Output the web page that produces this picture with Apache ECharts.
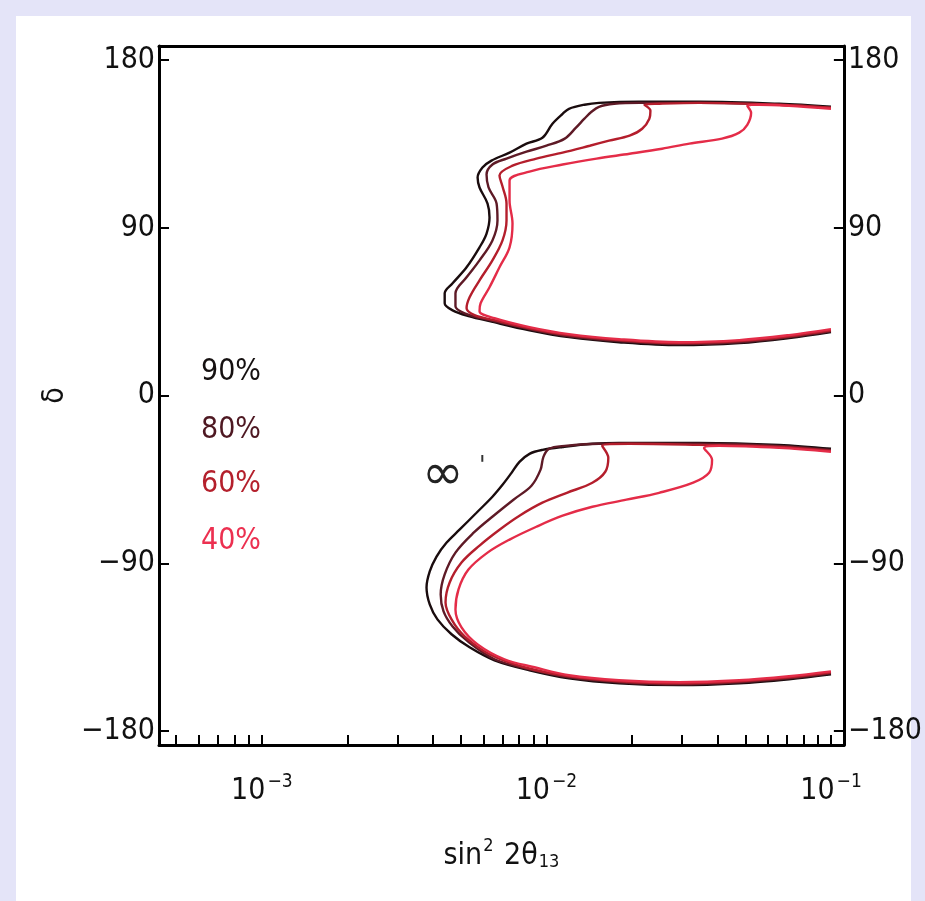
<!DOCTYPE html>
<html>
<head>
<meta charset="utf-8">
<script src="https://cdn.jsdelivr.net/npm/echarts@6/dist/echarts.min.js"></script>
<style>
html,body{margin:0;padding:0;background:#e4e4f8;}
#c{width:925px;height:901px;}
</style>
</head>
<body>
<div id="c"></div>
<script>
// ---------- data (sin^2 2θ13, δ in degrees) ----------
const levels = ['90%', '80%', '60%', '40%'];

const up90 = [[0.1,154.9],[0.0657,156.5],[0.0344,157.6],[0.0212,157.6],[0.0153,157.0],[0.0136,156.0],[0.0120,153.8],[0.0114,151.1],[0.0105,145.8],[0.00968,138.3],[0.00851,135.1],[0.00742,130.3],[0.00641,126.0],[0.00596,122.3],[0.00573,116.9],[0.00582,111.6],[0.00621,103.0],[0.00631,95.5],[0.00616,86.9],[0.00582,79.5],[0.00524,68.8],[0.00468,60.2],[0.00439,54.8],[0.00439,49.5],[0.00468,45.7],[0.00537,42.5],[0.00631,39.9],[0.00872,35.0],[0.0120,31.3],[0.0180,28.6],[0.0293,27.0],[0.0476,28.1],[0.0712,30.8],[0.1,34.0]];
const up80 = [[0.1,154.4],[0.0657,156.0],[0.0344,157.0],[0.0212,157.0],[0.0173,156.5],[0.0153,154.9],[0.0144,152.2],[0.0136,148.5],[0.0127,143.7],[0.0116,137.8],[0.0100,134.0],[0.00851,130.8],[0.00724,127.1],[0.00646,123.9],[0.00616,118.5],[0.00626,111.6],[0.00668,103.0],[0.00673,93.9],[0.00646,83.2],[0.00582,72.5],[0.00524,63.4],[0.00479,54.8],[0.00479,47.9],[0.00516,44.1],[0.00631,40.4],[0.00872,35.6],[0.0120,31.8],[0.0180,29.2],[0.0293,27.6],[0.0476,28.6],[0.0712,31.3],[0.1,34.5]];
const up60 = [[0.1,154.4],[0.0657,156.0],[0.0344,157.0],[0.0249,156.5],[0.0221,156.0],[0.0232,152.8],[0.0230,148.5],[0.0217,143.1],[0.0196,139.4],[0.0166,136.7],[0.0142,134.0],[0.0114,130.3],[0.00922,127.1],[0.00760,123.3],[0.00684,118.0],[0.00701,112.1],[0.00724,103.0],[0.00724,93.9],[0.00701,83.2],[0.00646,72.5],[0.00582,61.8],[0.00537,52.7],[0.00524,46.8],[0.00559,43.1],[0.00657,40.4],[0.00872,36.1],[0.0120,32.4],[0.0180,29.7],[0.0293,28.1],[0.0476,29.2],[0.0712,31.8],[0.1,35.0]];
const up40 = [[0.1,153.8],[0.0712,155.4],[0.0559,156.0],[0.0508,155.4],[0.0524,151.7],[0.0508,145.2],[0.0476,141.0],[0.0414,137.8],[0.0318,135.1],[0.0255,132.4],[0.0196,129.7],[0.0150,127.1],[0.0114,123.9],[0.00872,120.1],[0.00742,115.3],[0.00742,104.6],[0.00760,92.3],[0.00742,79.5],[0.00684,68.8],[0.00631,58.1],[0.00587,49.5],[0.00582,45.2],[0.00657,41.5],[0.00872,36.7],[0.0120,32.9],[0.0180,30.2],[0.0293,28.6],[0.0476,29.7],[0.0712,32.4],[0.1,35.6]];

const lo90 = [[0.1,-28.6],[0.0657,-26.5],[0.0344,-25.4],[0.0180,-25.4],[0.0145,-25.9],[0.0114,-27.6],[0.00968,-29.2],[0.00872,-31.3],[0.00804,-35.6],[0.00754,-41.5],[0.00701,-47.9],[0.00646,-54.3],[0.00568,-62.9],[0.00495,-72.0],[0.00446,-78.9],[0.00411,-86.4],[0.00389,-94.4],[0.00379,-103.0],[0.00389,-112.1],[0.00414,-120.1],[0.00464,-128.1],[0.00537,-135.1],[0.00657,-142.1],[0.00872,-147.4],[0.0120,-151.7],[0.0180,-154.4],[0.0293,-155.4],[0.0476,-154.4],[0.0712,-152.2],[0.1,-149.6]];
const lo80 = [[0.1,-29.2],[0.0657,-27.0],[0.0344,-25.9],[0.0153,-25.9],[0.0116,-27.0],[0.0102,-28.6],[0.00976,-32.9],[0.00953,-39.9],[0.00886,-48.4],[0.00766,-55.9],[0.00652,-64.5],[0.00555,-73.6],[0.00479,-84.3],[0.00439,-96.0],[0.00425,-106.7],[0.00435,-115.8],[0.00468,-123.9],[0.00528,-131.8],[0.00657,-141.5],[0.00872,-146.9],[0.0120,-151.2],[0.0180,-153.8],[0.0293,-154.9],[0.0476,-153.8],[0.0712,-151.7],[0.1,-149.0]];
const lo60 = [[0.1,-29.7],[0.0657,-27.6],[0.0344,-26.5],[0.0196,-25.9],[0.0157,-27.0],[0.0165,-33.4],[0.0161,-40.9],[0.0145,-46.8],[0.0118,-52.2],[0.00968,-57.5],[0.00804,-64.5],[0.00684,-72.0],[0.00582,-80.5],[0.00503,-89.6],[0.00457,-100.3],[0.00442,-111.0],[0.00464,-120.1],[0.00516,-129.2],[0.00631,-138.8],[0.00837,-145.8],[0.0120,-150.6],[0.0180,-153.3],[0.0293,-154.4],[0.0476,-153.3],[0.0712,-151.2],[0.1,-148.5]];
const lo40 = [[0.1,-30.2],[0.0657,-28.1],[0.0405,-27.0],[0.0358,-28.1],[0.0382,-34.5],[0.0373,-41.5],[0.0328,-46.8],[0.0249,-52.2],[0.0191,-55.9],[0.0145,-59.7],[0.0114,-64.5],[0.00922,-70.4],[0.00742,-77.3],[0.00621,-84.3],[0.00532,-93.4],[0.00491,-104.0],[0.00479,-114.8],[0.00503,-124.4],[0.00573,-133.5],[0.00712,-141.5],[0.00908,-145.8],[0.0120,-150.1],[0.0180,-152.8],[0.0293,-153.8],[0.0476,-152.8],[0.0712,-150.6],[0.1,-148.0]];

// axis range and ticks (data space)
const xRange = [4.35e-4, 0.111];
const yRange = [-187.5, 187.5];
const xMajor = [1e-3, 1e-2, 1e-1];
const xMinor = [5e-4,6e-4,7e-4,8e-4,9e-4,1e-3,2e-3,3e-3,4e-3,5e-3,6e-3,7e-3,8e-3,9e-3,1e-2,2e-2,3e-2,4e-2,5e-2,6e-2,7e-2,8e-2,9e-2,1e-1];
const yTicks = [-180, -90, 0, 90, 180];
const annotation = '\u221E';

// ---------- chart ----------
const FONT = "'DejaVu Sans Condensed', 'DejaVu Sans', sans-serif";
const lg = v => Math.log10(v);
const conv = arr => arr.map(p => [lg(p[0]), p[1]]);
const colors = ['#1a0c0e', '#5e1a26', '#b41e2c', '#e42c48'];
const islands = [[up90, lo90], [up80, lo80], [up60, lo60], [up40, lo40]];

const series = [];
islands.forEach((pair, i) => {
  pair.forEach(arr => {
    series.push({
      type: 'line', name: levels[i], data: conv(arr),
      showSymbol: false, symbol: 'none', smooth: 0.35,
      lineStyle: { color: colors[i], width: 2.4 },
      clip: true, z: 3 + i
    });
  });
});

const minus = v => v < 0 ? '\u2212' + Math.abs(v) : String(v);
const yAxisCommon = {
  type: 'value', min: yRange[0], max: yRange[1],
  splitLine: { show: false },
  axisLine: { show: true, onZero: false, lineStyle: { color: '#000', width: 3 } },
  axisTick: { show: true, inside: true, length: 10, lineStyle: { color: '#000', width: 2 }, customValues: yTicks },
  axisLabel: { customValues: yTicks, formatter: minus, color: '#111', fontFamily: FONT, fontSize: 30, margin: 4 }
};
const txt = (text, x, y, color, size, family) => ({
  type: 'text', left: x, top: y, z: 10, silent: true,
  style: { text: text, fill: color, fontFamily: family || FONT, fontSize: size }
});

const chart = echarts.init(document.getElementById('c'), null, { renderer: 'canvas' });
chart.setOption({
  backgroundColor: '#e4e4f8',
  animation: false,
  grid: { left: 159, right: 80, top: 46, bottom: 156, containLabel: false },
  graphic: [
    { type: 'rect', z: -100, silent: true, shape: { x: 16, y: 16, width: 895, height: 885 }, style: { fill: '#ffffff' } },
    txt(levels[0], 201, 357, '#151010', 30),
    txt(levels[1], 201, 415, '#4e1822', 30),
    txt(levels[2], 201, 469, '#b4202c', 30),
    txt(levels[3], 201, 526, '#ec3050', 30),
    txt(annotation, 422, 451, '#222', 50, "'DejaVu Sans', sans-serif"),
    txt('\'', 479, 455, '#333', 24, "'DejaVu Sans', sans-serif")
  ],
  xAxis: [
    {
      type: 'value', position: 'bottom', min: lg(xRange[0]), max: lg(xRange[1]),
      splitLine: { show: false },
      axisLine: { show: true, onZero: false, lineStyle: { color: '#000', width: 3 } },
      axisTick: { show: true, inside: true, length: 10, lineStyle: { color: '#000', width: 2 }, customValues: xMinor.map(lg) },
      axisLabel: {
        customValues: xMajor.map(lg), margin: 28,
        formatter: v => '{b|10}{s|\u2212' + Math.round(Math.abs(v)) + '}',
        rich: {
          b: { fontFamily: FONT, fontSize: 30, color: '#111' },
          s: { fontFamily: FONT, fontSize: 19, color: '#111', padding: [0, 0, 18, 2] }
        }
      },
      name: '{n|sin}{p|2}{n| 2\u03B8}{q|13}', nameLocation: 'middle', nameGap: 92,
      nameTextStyle: {
        rich: {
          n: { fontFamily: FONT, fontSize: 30, color: '#111' },
          p: { fontFamily: FONT, fontSize: 18, color: '#111', padding: [0, 2, 20, 1] },
          q: { fontFamily: FONT, fontSize: 18, color: '#111', padding: [12, 0, 0, 1] }
        }
      }
    },
    {
      type: 'value', position: 'top', min: lg(xRange[0]), max: lg(xRange[1]),
      splitLine: { show: false }, axisTick: { show: false }, axisLabel: { show: false },
      axisLine: { show: true, onZero: false, lineStyle: { color: '#000', width: 3 } }
    }
  ],
  yAxis: [
    Object.assign({}, yAxisCommon, {
      position: 'left',
      name: '\u03B4', nameLocation: 'middle', nameGap: 54, nameRotate: 90,
      nameTextStyle: { fontFamily: FONT, fontSize: 30, color: '#111' }
    }),
    Object.assign({}, yAxisCommon, { position: 'right' })
  ],
  series: series
});
</script>
</body>
</html>
